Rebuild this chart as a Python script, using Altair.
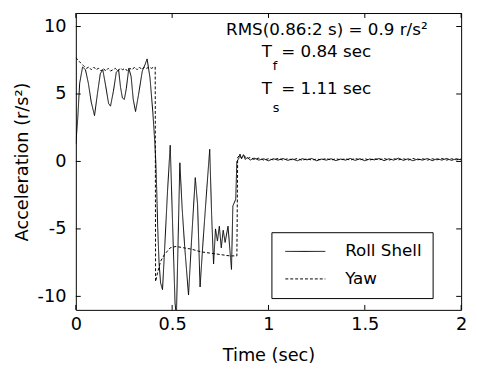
import altair as alt
import pandas as pd

# ---------------- data ----------------
series_names = ["Roll Shell", "Yaw"]

roll_t = [0.000, 0.010, 0.020, 0.035, 0.050, 0.065, 0.080, 0.097, 0.112, 0.127,
          0.140, 0.155, 0.170, 0.180, 0.195, 0.210, 0.222, 0.232, 0.242, 0.252,
          0.262, 0.275, 0.287, 0.298, 0.310, 0.325, 0.345, 0.360, 0.370, 0.385,
          0.400, 0.410, 0.415, 0.420, 0.425, 0.432, 0.440, 0.450, 0.462, 0.476,
          0.490, 0.502, 0.515, 0.522, 0.540, 0.552, 0.565, 0.585, 0.600, 0.620,
          0.632, 0.645, 0.660, 0.680, 0.695, 0.705, 0.715, 0.725, 0.735, 0.745,
          0.755, 0.765, 0.775, 0.790, 0.800, 0.808, 0.815, 0.830, 0.836, 0.845,
          0.852, 0.860, 0.870, 0.880, 0.890, 0.905, 0.925, 0.950, 0.975, 1.000,
          1.025, 1.050, 1.075, 1.100, 1.125, 1.150, 1.175, 1.200, 1.225, 1.250,
          1.275, 1.300, 1.325, 1.350, 1.375, 1.400, 1.425, 1.450, 1.475, 1.500,
          1.525, 1.550, 1.575, 1.600, 1.625, 1.650, 1.675, 1.700, 1.725, 1.750,
          1.775, 1.800, 1.825, 1.850, 1.875, 1.900, 1.925, 1.950, 1.975, 2.000]
roll_a = [1.3, 3.2, 5.8, 7.0, 6.8, 5.8, 4.4, 3.4, 5.0, 6.5,
          6.8, 5.6, 4.3, 4.1, 5.2, 6.6, 6.8, 5.5, 4.7, 4.6,
          5.4, 6.9, 6.3, 4.6, 3.7, 4.9, 6.7, 7.2, 7.6, 6.2,
          3.6, 1.4, 0.0, -2.2, -4.9, -7.5, -9.0, -9.5, -6.2, -2.2,
          1.2, -4.5, -10.5, -11.5, -0.1, -3.5, -6.3, -9.9, -6.0, -1.2,
          -3.2, -9.3, -6.0, -2.0, 0.9, -4.0, -7.6, -5.0, -5.9, -4.8,
          -6.4, -5.1, -6.0, -4.8, -6.6, -8.0, -3.3, -2.8, 0.0, 0.2,
          0.55, 0.2, 0.5, 0.15, 0.3, 0.1, 0.25, 0.1, 0.2, 0.05,
          0.2, 0.1, 0.22, 0.08, 0.18, 0.05, 0.2, 0.12, 0.22, 0.05,
          0.18, 0.1, 0.2, 0.06, 0.18, 0.1, 0.22, 0.08, 0.2, 0.05,
          0.18, 0.12, 0.22, 0.06, 0.2, 0.1, 0.24, 0.08, 0.2, 0.05,
          0.18, 0.1, 0.22, 0.06, 0.2, 0.1, 0.22, 0.08, 0.2, 0.12]

yaw_t = [0.000, 0.012, 0.025, 0.040, 0.055, 0.068, 0.080, 0.093, 0.105, 0.118,
         0.130, 0.143, 0.155, 0.168, 0.180, 0.193, 0.205, 0.218, 0.230, 0.243,
         0.255, 0.268, 0.280, 0.293, 0.305, 0.318, 0.330, 0.343, 0.355, 0.368,
         0.380, 0.393, 0.405, 0.412, 0.414, 0.425, 0.440, 0.460, 0.490, 0.520,
         0.560, 0.600, 0.650, 0.700, 0.750, 0.800, 0.836, 0.840, 0.850, 0.860,
         0.875, 0.890, 0.905, 0.925, 0.950, 0.975, 1.000, 1.025, 1.050, 1.075,
         1.100, 1.125, 1.150, 1.175, 1.200, 1.225, 1.250, 1.275, 1.300, 1.325,
         1.350, 1.375, 1.400, 1.425, 1.450, 1.475, 1.500, 1.525, 1.550, 1.575,
         1.600, 1.625, 1.650, 1.675, 1.700, 1.725, 1.750, 1.775, 1.800, 1.825,
         1.850, 1.875, 1.900, 1.925, 1.950, 1.975, 2.000]
yaw_a = [7.7, 7.5, 7.3, 7.1, 6.9, 7.0, 6.8, 7.0, 6.8, 6.9,
         6.7, 6.9, 6.7, 6.9, 6.7, 6.8, 6.9, 6.7, 6.9, 6.8,
         6.9, 6.7, 6.9, 6.8, 7.0, 6.8, 7.0, 6.8, 7.0, 6.9,
         7.0, 6.9, 7.0, 7.0, -8.9, -8.2, -7.4, -6.9, -6.4, -6.3,
         -6.4, -6.5, -6.7, -6.8, -6.9, -7.0, -7.0, 0.3, 0.45, 0.25,
         0.4, 0.2, 0.3, 0.15, 0.25, 0.1, 0.2, 0.12, 0.22, 0.1,
         0.2, 0.12, 0.22, 0.08, 0.2, 0.1, 0.18, 0.12, 0.22, 0.1,
         0.2, 0.12, 0.2, 0.1, 0.22, 0.12, 0.2, 0.1, 0.2, 0.12,
         0.22, 0.1, 0.2, 0.12, 0.2, 0.1, 0.22, 0.12, 0.2, 0.1,
         0.2, 0.12, 0.22, 0.1, 0.2, 0.12, 0.18]

x_ticks = [0, 0.5, 1, 1.5, 2]
y_ticks = [-10, -5, 0, 5, 10]
x_domain = [0, 2]
y_domain = [-11, 11]

# annotation texts (positions in data units)
ann_text = ["RMS(0.86:2 s) = 0.9 r/s²", "T", "= 0.84 sec", "T", "= 1.11 sec"]
ann_t = [1.303, 0.965, 1.066, 0.965, 1.066]
ann_a = [9.35, 7.75, 7.75, 5.0, 5.0]
ann_align = ["center", "left", "left", "left", "left"]
sub_text = ["f", "s"]
sub_t = [1.022, 1.022]
sub_a = [6.8, 3.65]

# ---------------- chart ----------------
W, H = 392, 302
FONT = "DejaVu Sans"

df = pd.concat([
    pd.DataFrame({"t": roll_t, "a": roll_a, "series": series_names[0],
                  "ord": list(range(len(roll_t)))}),
    pd.DataFrame({"t": yaw_t, "a": yaw_a, "series": series_names[1],
                  "ord": list(range(len(yaw_t)))}),
])

xscale = alt.Scale(domain=x_domain, nice=False, zero=False)
yscale = alt.Scale(domain=y_domain, nice=False, zero=False)
x_axis = alt.Axis(values=x_ticks, labelExpr="toString(datum.value)",
                  title="Time (sec)", ticks=False, grid=False, domain=False,
                  labelFlush=False, labelPadding=6, titlePadding=14)
y_axis = alt.Axis(values=y_ticks, labelExpr="toString(datum.value)",
                  title="Acceleration (r/s²)", ticks=False, grid=False,
                  domain=False, labelFlush=False, labelPadding=10, titlePadding=6)
X = lambda: alt.X("t:Q", scale=xscale, axis=x_axis, title="Time (sec)")
Y = lambda: alt.Y("a:Q", scale=yscale, axis=y_axis, title="Acceleration (r/s²)")

lines = alt.Chart(df).mark_line(color="black", strokeWidth=1, clip=True).encode(
    x=X(), y=Y(),
    strokeDash=alt.StrokeDash(
        "series:N",
        scale=alt.Scale(domain=series_names, range=[[1, 0], [3, 2]]),
        legend=alt.Legend(
            title=None, orient="none", legendX=199, legendY=223,
            strokeColor="black", fillColor="white", padding=11,
            symbolType="M-3.7,0H3.7", symbolSize=121, symbolOffset=15,
            symbolStrokeColor="black", symbolStrokeWidth=1,
            symbolFillColor="transparent",
            labelOffset=32, labelFontSize=17, labelFont=FONT,
            labelColor="black", rowPadding=10,
        ),
    ),
    order="ord:Q",
)

xt = pd.DataFrame({"t": x_ticks})
yt = pd.DataFrame({"a": y_ticks})
tick_x_bottom = alt.Chart(xt).mark_rule(color="black").encode(
    x=X(), y=alt.value(H), y2=alt.value(H - 5))
tick_x_top = alt.Chart(xt).mark_rule(color="black").encode(
    x=X(), y=alt.value(0), y2=alt.value(5))
tick_y_left = alt.Chart(yt).mark_rule(color="black").encode(
    y=Y(), x=alt.value(0), x2=alt.value(5))
tick_y_right = alt.Chart(yt).mark_rule(color="black").encode(
    y=Y(), x=alt.value(W), x2=alt.value(W - 5))

ann = pd.DataFrame({"t": ann_t, "a": ann_a, "text": ann_text, "align": ann_align})
ann_center = alt.Chart(ann[ann["align"] == "center"]).mark_text(
    align="center", baseline="alphabetic", fontSize=17, font=FONT, color="black"
).encode(x=X(), y=Y(), text="text:N")
ann_left = alt.Chart(ann[ann["align"] == "left"]).mark_text(
    align="left", baseline="alphabetic", fontSize=17, font=FONT, color="black"
).encode(x=X(), y=Y(), text="text:N")
subs = pd.DataFrame({"t": sub_t, "a": sub_a, "text": sub_text})
ann_sub = alt.Chart(subs).mark_text(
    align="left", baseline="alphabetic", fontSize=13, font=FONT, color="black"
).encode(x=X(), y=Y(), text="text:N")

chart = alt.layer(
    lines, tick_x_bottom, tick_x_top, tick_y_left, tick_y_right,
    ann_center, ann_left, ann_sub,
).properties(
    width=W, height=H,
    autosize=alt.AutoSizeParams(type="none"),
    padding={"left": 69, "top": 2, "right": 8, "bottom": 55},
    background="white",
).configure_view(
    stroke="black", strokeWidth=1,
).configure_axis(
    labelFont=FONT, labelFontSize=18, labelColor="black",
    titleFont=FONT, titleFontSize=18, titleColor="black", titleFontWeight="normal",
)

chart.save("out.html", embed_options={"renderer": "svg", "actions": False})
